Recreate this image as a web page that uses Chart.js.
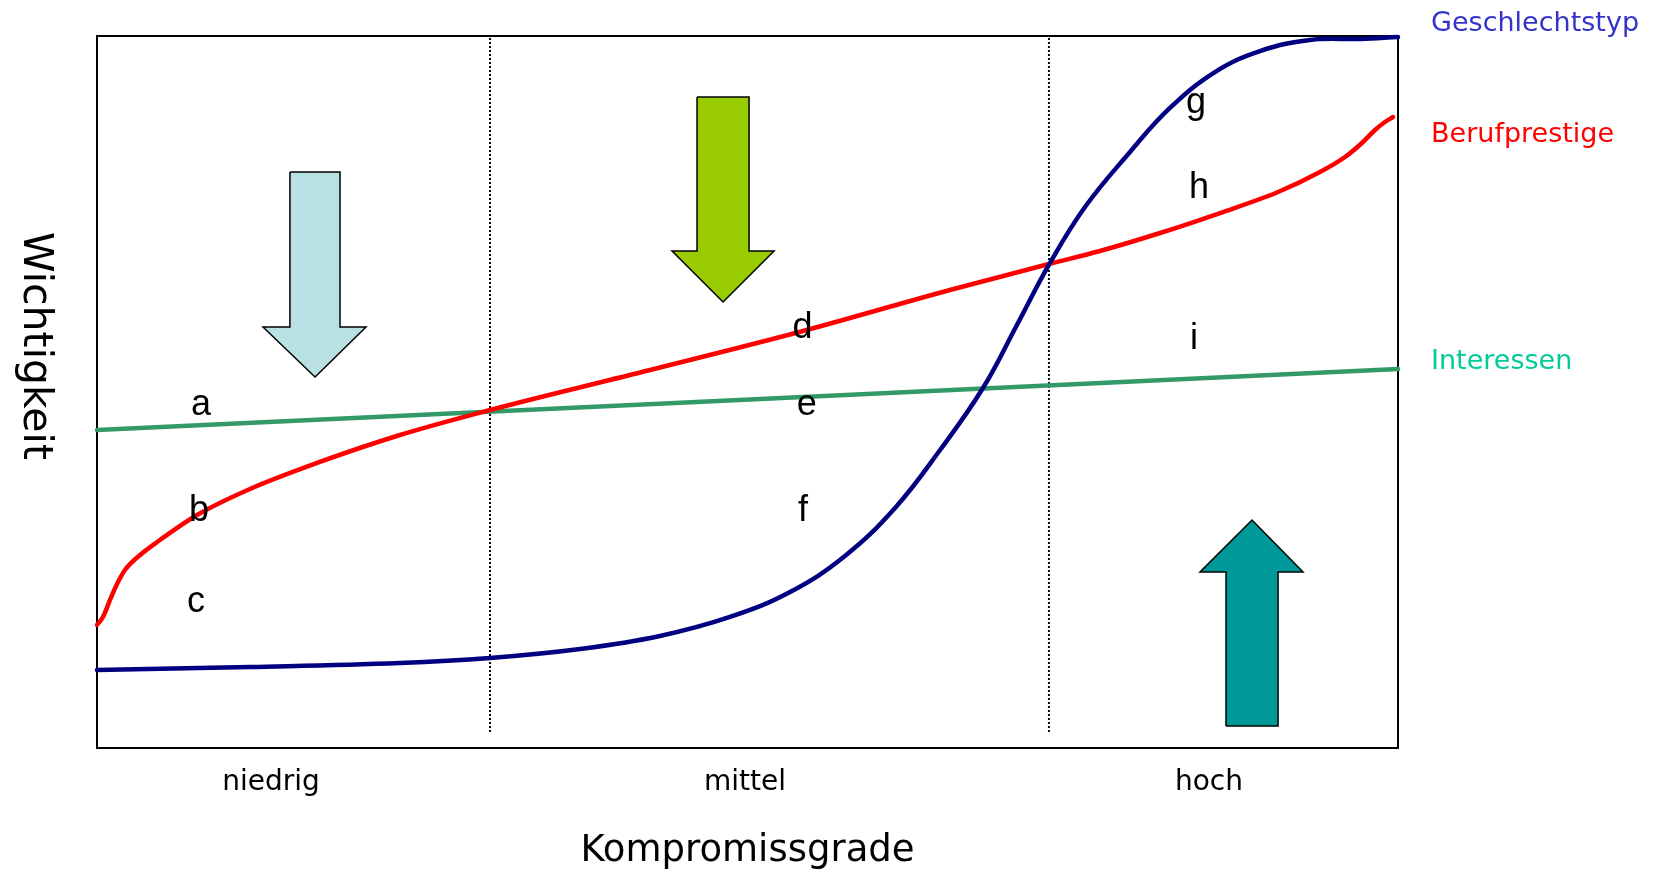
<!DOCTYPE html>
<html><head><meta charset="utf-8">
<script src="https://cdn.jsdelivr.net/npm/chart.js@4.4.1/dist/chart.umd.min.js"></script>
<style>html,body{margin:0;padding:0;background:#fff}#wrap{width:1658px;height:875px;position:relative}</style>
</head><body><div id="wrap"><canvas id="c"></canvas></div>
<script>
// Categories (x axis) and their positions on the 0-100 "Kompromissgrade" scale
const categories = ['niedrig', 'mittel', 'hoch'];
const categoryPos = [13.37, 49.81, 85.47];
const dividerX = [30.21, 73.17];
const dividerY = [2.25, 100];

// Series (x = Kompromissgrade 0-100, y = Wichtigkeit 0-100)
const seriesNames = ['Geschlechtstyp', 'Berufprestige', 'Interessen'];
const seriesColors = ['#000080', '#ff0000', '#339966'];
const seriesLabelColors = ['#3333cc', '#ff0000', '#00cc99'];
const seriesLabelY = [101.69, 86.1, 54.21];
const seriesLabelX = 102.54;

const geschlechtX = [0, 11.76, 23.29, 30.21, 37.13, 43.27, 48.65, 53.27, 57.49, 61.34, 64.8, 68.1, 70.71, 73.25, 75.94, 79.4, 82.47, 85.93, 89.39, 93.24, 97.08, 100];
const geschlechtY = [10.96, 11.38, 11.94, 12.64, 13.9, 15.73, 18.4, 21.91, 26.97, 33.71, 41.85, 50.56, 59.41, 68.12, 75.98, 83.71, 89.89, 94.94, 97.89, 99.44, 99.58, 99.86];

const prestigeX = [0, 0.46, 1.0, 1.54, 2.15, 3.31, 4.84, 7.69, 11.76, 16.91, 23.29, 30.21, 42.51, 54.27, 65.56, 73.17, 77.09, 81.71, 86.32, 90.78, 94.0, 95.93, 97.23, 98.23, 99.0, 99.62];
const prestigeY = [17.28, 18.4, 20.79, 23.03, 25.0, 27.11, 29.21, 32.72, 36.38, 40.03, 43.96, 47.47, 53.09, 58.57, 64.33, 67.98, 69.8, 72.33, 75.14, 78.09, 80.9, 83.01, 84.97, 86.8, 87.92, 88.62];

const interessenX = [0, 100];
const interessenY = [44.66, 53.23];

// Letters placed in the chart
const letters = ['a', 'b', 'c', 'd', 'e', 'f', 'g', 'h', 'i'];
const letterX = [7.99, 7.84, 7.61, 54.23, 54.55, 54.27, 84.47, 84.7, 84.32];
const letterY = [46.77, 31.88, 19.1, 57.58, 46.77, 31.88, 89.19, 77.25, 56.04];

// Arrow outlines (in chart units)
const arrowLightX = [14.83, 18.68, 18.68, 20.68, 16.76, 12.76, 14.83, 14.83];
const arrowLightY = [80.9, 80.9, 59.13, 59.13, 52.11, 59.13, 59.13, 80.9];
const arrowGreenX = [46.12, 50.12, 50.12, 52.04, 48.12, 44.2, 46.12, 46.12];
const arrowGreenY = [91.43, 91.43, 69.8, 69.8, 62.64, 69.8, 69.8, 91.43];
const arrowTealX = [86.78, 90.78, 90.78, 92.7, 88.78, 84.78, 86.78, 86.78];
const arrowTealY = [3.09, 3.09, 24.72, 24.72, 32.02, 24.72, 24.72, 3.09];

const xTitle = 'Kompromissgrade';
const yTitle = 'Wichtigkeit';
const yTitleCenter = 56.46;

const pts = (xs, ys) => xs.map((x, i) => ({x: x, y: ys[i]}));
const FONT = '"DejaVu Sans", Verdana, sans-serif';

function curve(name, xs, ys, color, smooth) {
  const ds = {label: name, data: pts(xs, ys), showLine: true, borderColor: color, borderWidth: 4.5,
    pointRadius: 0, fill: false, clip: false, borderCapStyle: 'round'};
  if (smooth === 'tension') { ds.tension = 0.4; } else { ds.cubicInterpolationMode = 'monotone'; }
  return ds;
}
function arrow(xs, ys, color) {
  return {label: 'arrow', data: pts(xs, ys), showLine: true, borderColor: '#000', borderWidth: 1.5,
    backgroundColor: color, fill: 'shape', tension: 0, pointRadius: 0, borderJoinStyle: 'miter', clip: false};
}
function divider(x) {
  return {label: 'divider', data: pts([x, x], dividerY), showLine: true, borderColor: '#000', borderWidth: 2,
    borderDash: [2, 2], pointRadius: 0, fill: false, clip: false};
}

const textPlugin = {
  id: 'texts',
  afterDatasetsDraw(chart) {
    const ctx = chart.ctx, xs = chart.scales.x, ys = chart.scales.y;
    ctx.save();
    ctx.fillStyle = '#000';
    ctx.font = '36px "Liberation Sans", Arial, sans-serif';
    ctx.textAlign = 'center';
    ctx.textBaseline = 'alphabetic';
    letters.forEach((l, i) => ctx.fillText(l, xs.getPixelForValue(letterX[i]), ys.getPixelForValue(letterY[i])));
    ctx.font = '27px ' + FONT;
    ctx.textAlign = 'left';
    ctx.textBaseline = 'middle';
    seriesNames.forEach((n, i) => {
      ctx.fillStyle = seriesLabelColors[i];
      ctx.fillText(n, xs.getPixelForValue(seriesLabelX), ys.getPixelForValue(seriesLabelY[i]));
    });
    ctx.fillStyle = '#000';
    ctx.font = '41px ' + FONT;
    ctx.translate(ys.left + 35, ys.getPixelForValue(yTitleCenter));
    ctx.rotate(Math.PI / 2);
    ctx.textAlign = 'center';
    ctx.textBaseline = 'middle';
    ctx.fillText(yTitle, 0, 0);
    ctx.restore();
  }
};

const frameBorder = {display: true, color: '#000', width: 2};

new Chart(document.getElementById('c'), {
  type: 'scatter',
  data: {
    datasets: [
      curve(seriesNames[0], geschlechtX, geschlechtY, seriesColors[0], 'tension'),
      curve(seriesNames[1], prestigeX, prestigeY, seriesColors[1], 'monotone'),
      curve(seriesNames[2], interessenX, interessenY, seriesColors[2], 'monotone'),
      arrow(arrowLightX, arrowLightY, '#b9e0e3'),
      arrow(arrowGreenX, arrowGreenY, '#99cc00'),
      arrow(arrowTealX, arrowTealY, '#009999'),
      divider(dividerX[0]),
      divider(dividerX[1])
    ]
  },
  options: {
    responsive: true,
    maintainAspectRatio: false,
    animation: false,
    layout: {padding: 0},
    plugins: {legend: {display: false}, tooltip: {enabled: false}},
    scales: {
      x: {
        type: 'linear', position: 'bottom', min: 0, max: 100,
        grid: {display: false, drawTicks: false},
        border: frameBorder,
        afterBuildTicks: (s) => { s.ticks = categoryPos.map(v => ({value: v})); },
        ticks: {
          autoSkip: false, maxRotation: 0, padding: 18, color: '#000',
          font: {family: FONT, size: 28},
          callback: (v) => { const i = categoryPos.indexOf(v); return i >= 0 ? categories[i] : ''; }
        },
        title: {display: true, text: xTitle, color: '#000', font: {family: FONT, size: 37}, padding: {top: 0, bottom: 1}},
        afterFit: (s) => { s.height = 127; }
      },
      y: {
        type: 'linear', position: 'left', min: 0, max: 100,
        grid: {display: false, drawTicks: false},
        border: frameBorder,
        ticks: {display: false},
        afterFit: (s) => { s.width = 97; }
      },
      x2: {
        type: 'linear', position: 'top', min: 0, max: 100,
        grid: {display: false, drawTicks: false},
        border: frameBorder,
        ticks: {display: false},
        afterFit: (s) => { s.height = 36; }
      },
      y2: {
        type: 'linear', position: 'right', min: 0, max: 100,
        grid: {display: false, drawTicks: false},
        border: frameBorder,
        ticks: {display: false},
        afterFit: (s) => { s.width = 260; }
      }
    }
  },
  plugins: [textPlugin]
});
</script>
</body></html>
